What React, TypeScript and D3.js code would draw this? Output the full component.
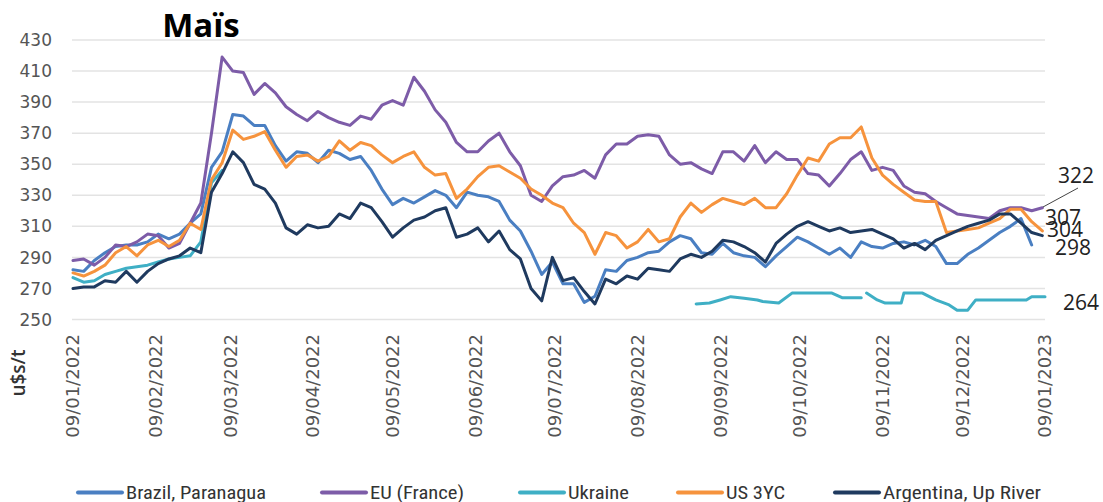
import React from "react";
import * as d3 from "d3";

const W = 1103;
const H = 502;

// sampling grid for the four daily series: every 4 days from 09/01/2022
const START_DATE = "2022-01-09";
const STEP_DAYS = 4;

const brazil: (number | null)[] = [
  282, 281, 288, 293, 297, 298, 298, 300, 305, 302,
  305, 312, 318, 348, 358, 382, 381, 375, 375, 362,
  352, 358, 357, 351, 359, 357, 353, 355, 346, 334,
  324, 328, 325, 329, 333, 330, 322, 332, 330, 329,
  326, 314, 307, 294, 279, 287, 273, 273, 261, 265,
  282, 281, 288, 290, 293, 294, 300, 304, 302, 293,
  292, 299, 293, 291, 290, 284, 291, 297, 303, 300,
  296, 292, 296, 290, 300, 297, 296, 299, 300, 298,
  301, 297, 286, 286, 292, 296, 301, 306, 310, 315,
  298, null,
];

const euFrance: (number | null)[] = [
  288, 289, 285, 290, 298, 297, 300, 305, 304, 296,
  299, 312, 325, 370, 419, 410, 409, 395, 402, 396,
  387, 382, 378, 384, 380, 377, 375, 381, 379, 388,
  391, 388, 406, 397, 385, 377, 364, 358, 358, 365,
  370, 358, 349, 330, 326, 336, 342, 343, 346, 341,
  356, 363, 363, 368, 369, 368, 356, 350, 351, 347,
  344, 358, 358, 352, 362, 351, 358, 353, 353, 344,
  343, 336, 344, 353, 358, 346, 348, 346, 336, 332,
  331, 326, 322, 318, 317, 316, 315, 320, 322, 322,
  320, 322,
];

const us3yc: (number | null)[] = [
  280, 278, 281, 285, 293, 297, 291, 298, 301, 297,
  301, 312, 308, 340, 351, 372, 366, 368, 371, 359,
  348, 355, 356, 352, 355, 365, 359, 364, 362, 356,
  351, 355, 358, 348, 343, 344, 328, 334, 342, 348,
  349, 345, 341, 334, 330, 325, 322, 312, 306, 292,
  306, 304, 296, 300, 308, 300, 302, 316, 325, 319,
  324, 328, 326, 324, 328, 322, 322, 331, 343, 354,
  352, 363, 367, 367, 374, 354, 343, 337, 332, 327,
  326, 326, 306, 307, 308, 309, 312, 315, 321, 321,
  313, 307,
];

const argentina: (number | null)[] = [
  270, 271, 271, 275, 274, 281, 274, 281, 286, 289,
  291, 296, 293, 332, 344, 358, 351, 337, 334, 325,
  309, 305, 311, 309, 310, 318, 315, 325, 322, 313,
  303, 309, 314, 316, 320, 322, 303, 305, 309, 300,
  307, 295, 289, 270, 262, 290, 275, 277, 268, 260,
  276, 273, 278, 276, 283, 282, 281, 289, 292, 290,
  294, 301, 300, 297, 293, 287, 299, 305, 310, 313,
  310, 307, 309, 306, 307, 308, 305, 302, 296, 299,
  295, 301, 304, 307, 310, 312, 314, 318, 318, 312,
  306, 304,
];

const ukraineDates = [
  "2022-01-09", "2022-01-13", "2022-01-17", "2022-01-21", "2022-01-25",
  "2022-01-29", "2022-02-02", "2022-02-06", "2022-02-10", "2022-02-14",
  "2022-02-18", "2022-02-22", "2022-02-26", "2022-03-02", "2022-03-06",
  "2022-03-07",
  "2022-08-31", "2022-09-05", "2022-09-09", "2022-09-13", "2022-09-18",
  "2022-09-23", "2022-09-25", "2022-10-01", "2022-10-06", "2022-10-21",
  "2022-10-25", "2022-11-01",
  "2022-11-02",
  "2022-11-03", "2022-11-07", "2022-11-10", "2022-11-16", "2022-11-17",
  "2022-11-24", "2022-11-29", "2022-12-04", "2022-12-07", "2022-12-11",
  "2022-12-14", "2023-01-02", "2023-01-04", "2023-01-09",
];
const ukraineValues: (number | null)[] = [
  277, 274, 275, 279, 281,
  283, 284, 285, 287, 289,
  290, 291, 300, 338, 346,
  null,
  260, 260.6, 262.6, 264.7, 263.7,
  262.6, 261.6, 260.6, 267, 267,
  264, 264,
  null,
  267, 262.6, 260.6, 260.6, 267,
  267, 262.6, 259.4, 256, 256,
  262.6, 262.6, 264.7, 264.7,
];

const xTickLabels = [
  "09/01/2022", "09/02/2022", "09/03/2022", "09/04/2022", "09/05/2022",
  "09/06/2022", "09/07/2022", "09/08/2022", "09/09/2022", "09/10/2022",
  "09/11/2022", "09/12/2022", "09/01/2023",
];
const yTicks = [250, 270, 290, 310, 330, 350, 370, 390, 410, 430];

const seriesNames = ["Brazil, Paranagua", "EU (France)", "Ukraine", "US 3YC", "Argentina, Up River"];
const seriesColors = ["#4a7fc2", "#7d5ca8", "#3fafc5", "#f6933d", "#1f3a5f"];
const endLabels = ["322", "307", "304", "298", "264"];

export default function App() {
  const parseIso = d3.timeParse("%Y-%m-%d");
  const parseTick = d3.timeParse("%d/%m/%Y");
  const start = parseIso(START_DATE) as Date;
  const gridDates = brazil.map((_, i) => d3.timeDay.offset(start, i * STEP_DAYS));
  const tickDates = xTickLabels.map((s) => parseTick(s) as Date);

  const x = d3
    .scaleTime()
    .domain([tickDates[0], tickDates[tickDates.length - 1]])
    .range([73, 1045]);
  const y = d3.scaleLinear().domain([250, 430]).range([319.5, 40]);

  type P = [Date, number | null];
  const line = d3
    .line<P>()
    .defined((d) => d[1] != null)
    .x((d) => x(d[0]))
    .y((d) => y(d[1] as number))
    .curve(d3.curveLinear);

  const gridSeries = (vals: (number | null)[]): P[] => vals.map((v, i) => [gridDates[i], v]);
  const ukraine: P[] = ukraineDates.map((s, i) => [parseIso(s) as Date, ukraineValues[i]]);

  // drawing order
  const paths = [
    { d: line(gridSeries(brazil)), c: seriesColors[0] },
    { d: line(gridSeries(euFrance)), c: seriesColors[1] },
    { d: line(ukraine), c: seriesColors[2] },
    { d: line(gridSeries(us3yc)), c: seriesColors[3] },
    { d: line(gridSeries(argentina)), c: seriesColors[4] },
  ];

  const legendX = [78, 322, 520, 678, 835];
  const legendTextW = [140, 94, 61, 59, 158];

  const endLabelPos = [
    { x: 1058, y: 175 },
    { x: 1045, y: 217 },
    { x: 1047, y: 229 },
    { x: 1055, y: 247 },
    { x: 1063, y: 302 },
  ];

  const numFont = "'DejaVu Sans', Verdana, sans-serif";

  return (
    <div style={{ position: "absolute", left: 0, top: 0, width: W, height: H, background: "#fff" }}>
      <svg width={W} height={H} style={{ display: "block" }}>
        <rect width={W} height={H} fill="#fff" />
        {/* title */}
        <text x={201} y={37} textAnchor="middle" fontFamily="'Open Sans', sans-serif" fontWeight={700} fontSize={33} fill="#000">
          Maïs
        </text>
        {/* grid */}
        {yTicks.map((t) => (
          <line key={t} x1={72} x2={1045} y1={y(t)} y2={y(t)} stroke="#e3e3e3" strokeWidth={1.5} />
        ))}
        {/* y tick labels */}
        {yTicks.map((t) => (
          <text key={"yl" + t} x={52} y={y(t)} dy="0.36em" textAnchor="end" fontFamily={numFont} fontSize={17} fill="#555">
            {t}
          </text>
        ))}
        {/* y title */}
        <text
          transform={`translate(25,373) rotate(-90)`}
          textAnchor="middle"
          fontFamily="'Open Sans', sans-serif"
          fontWeight={600}
          fontSize={19}
          fill="#333"
        >
          u$s/t
        </text>
        {/* x tick labels */}
        {tickDates.map((d, i) => (
          <text
            key={"xl" + i}
            transform={`translate(${x(d)},334) rotate(-90)`}
            dy="0.36em"
            textAnchor="end"
            fontFamily={numFont}
            fontSize={18}
            fill="#555"
          >
            {xTickLabels[i]}
          </text>
        ))}
        {/* series */}
        {paths.map((p, i) => (
          <path key={i} d={p.d || ""} fill="none" stroke={p.c} strokeWidth={3} strokeLinejoin="round" strokeLinecap="round" />
        ))}
        {/* end labels */}
        <line x1={1043} y1={207} x2={1078} y2={188} stroke="#444" strokeWidth={1} />
        {endLabels.map((t, i) => (
          <text
            key={"el" + i}
            x={endLabelPos[i].x}
            y={endLabelPos[i].y}
            dy="0.36em"
            fontFamily="'Open Sans', sans-serif"
            fontSize={21}
            fill="#222"
          >
            {t}
          </text>
        ))}
        {/* legend */}
        {seriesNames.map((n, i) => (
          <g key={"lg" + i}>
            <line x1={legendX[i]} x2={legendX[i] + 44} y1={492.5} y2={492.5} stroke={seriesColors[i]} strokeWidth={4} strokeLinecap="round" />
            <text
              x={legendX[i] + 48}
              y={499}
              fontFamily="'Liberation Sans Narrow', 'Roboto Condensed', Roboto, sans-serif"
              fontSize={19}
              fill="#333"
              textLength={legendTextW[i]}
              lengthAdjust="spacingAndGlyphs"
            >
              {n}
            </text>
          </g>
        ))}
      </svg>
    </div>
  );
}
